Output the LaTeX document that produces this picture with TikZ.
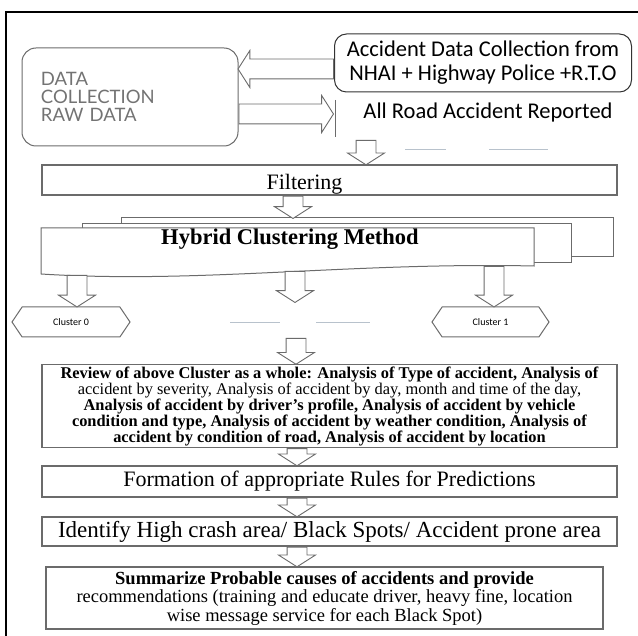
\documentclass[tikz,border=0pt]{standalone}
\usepackage{fontspec}
\setmainfont{Liberation Serif}
\newfontfamily\calfont{Carlito}
\newfontfamily\latofont{Lato}
\usetikzlibrary{positioning,calc,shapes.arrows,shapes.symbols}
\definecolor{linegray}{gray}{0.42}
\definecolor{textgray}{gray}{0.45}
\definecolor{fadeline}{rgb}{0.72,0.76,0.80}
\tikzset{
  box/.style={draw=linegray,line width=1.3pt,fill=white,inner sep=2pt,align=center},
  blockarrow/.style={single arrow,draw=linegray,fill=white,line width=0.9pt,
    inner xsep=0pt,inner ysep=9.5pt,
    single arrow head extend=8.5pt,single arrow tip angle=115},
  clusterbox/.style={signal,signal to=west and east,signal pointer angle=112,draw=linegray,
    line width=1pt,minimum width=118pt,minimum height=30pt,inner sep=0pt,
    font=\calfont\fontsize{10}{11}\selectfont},
  sheet/.style={draw=linegray,line width=1pt,fill=white}
}
% hollow block arrow from #1 to #2
\newcommand\hollowarrow[2]{\path let \p1=#1, \p2=#2,
  \n1={veclen(\x2-\x1,\y2-\y1)}, \n2={atan2(\y2-\y1,\x2-\x1)} in
  node[blockarrow,minimum height=\n1,rotate=\n2,anchor=tail] at (\p1) {};}

\begin{document}
\begin{tikzpicture}[x=1pt,y=-1pt]
\useasboundingbox (0,0) rectangle (638,636);
% outer frame
\draw[line width=1.5pt] (638,12) -- (6,12) -- (6,636);

% data collection part
\node[draw=linegray,line width=1pt,rounded corners=14pt,minimum width=216pt,minimum height=98pt,
  text width=178pt,inner xsep=19pt,align=left,text=textgray,
  font=\latofont\fontsize{18.5}{18}\selectfont] (raw) at (130,97) {DATA\\COLLECTION\\RAW DATA};
\node[draw=black!80,line width=1pt,rounded corners=12pt,minimum width=297pt,minimum height=58pt,
  align=center,font=\calfont\fontsize{22.5}{24}\selectfont] (adc) at (483,63)
  {Accident Data Collection from\\NHAI + Highway Police +R.T.O};
\node[font=\calfont\fontsize{22.5}{24}\selectfont] (road) at (488,113) {All Road Accident Reported};
\draw[linegray,line width=0.8pt] (335,100) -- (335,137);
\draw[fadeline,line width=1pt] (405,150) -- (446,150) (489,150) -- (548,150);
\hollowarrow{(adc.west |- 0,69)}{(raw.east |- 0,69)}
\hollowarrow{(raw.east |- 0,114)}{(333,114)}

% filtering
\node[box,minimum width=575pt,minimum height=30pt] (filter) at (329.5,180) {};
\node[font=\fontsize{22}{24}\selectfont] at ($(filter.center)+(-25,4)$) {Filtering};
\hollowarrow{(366,140)}{(366,0 |- filter.north)}

% hybrid clustering sheets
\draw[sheet] (121,218) rectangle (613,257);
\draw[sheet] (82,224) rectangle (571,263);
\draw[sheet] (41,228) -- (534,228) -- (534,266)
  .. controls (350,262) and (200,284) .. (41,274) -- cycle;
\node[font=\bfseries\fontsize{22.5}{24}\selectfont] (hyb) at (290,239) {Hybrid Clustering Method};
\hollowarrow{(293,0 |- filter.south)}{(293,218)}

% clusters
\node[clusterbox] (c0) at (71,322) {Cluster 0};
\node[clusterbox,minimum width=117pt] (c1) at (490.5,322) {Cluster 1};
\draw[fadeline,line width=1pt] (230,323) -- (280,323) (316,323) -- (370,323);
\hollowarrow{(77,275)}{(77,0 |- c0.north)}
\hollowarrow{(295,271)}{(295,302)}
\hollowarrow{(494,266)}{(494,0 |- c1.north)}

% review and results
\node[box,minimum width=575pt,minimum height=82pt,font=\fontsize{16.4}{16}\selectfont] (review) at (329.5,406)
  {\textbf{Review of above Cluster as a whole: Analysis of Type of accident, Analysis of}\\
   accident by severity, Analysis of accident by day, month and time of the day,\\
   \textbf{Analysis of accident by driver's profile, Analysis of accident by vehicle}\\
   \textbf{condition and type, Analysis of accident by weather condition, Analysis of}\\
   \textbf{accident by condition of road, Analysis of accident by location}};
\node[box,minimum width=575pt,minimum height=31pt,font=\fontsize{22}{24}\selectfont] (rules) at (329.5,481.5)
  {Formation of appropriate Rules for Predictions};
\node[box,minimum width=575pt,minimum height=29pt,font=\fontsize{23}{24}\selectfont] (spots) at (329.5,531.5)
  {Identify High crash area/ Black Spots/ Accident prone area};
\node[box,minimum width=557pt,minimum height=62pt,font=\fontsize{18.5}{18.5}\selectfont] (summ) at (324.5,598)
  {\textbf{Summarize Probable causes of accidents and provide}\\
   recommendations (training and educate driver, heavy fine, location\\
   wise message service for each Black Spot)};
\hollowarrow{(296,338)}{(296,0 |- review.north)}
\hollowarrow{(297,0 |- review.south)}{(297,0 |- rules.north)}
\hollowarrow{(297,0 |- rules.south)}{(297,0 |- spots.north)}
\hollowarrow{(297,0 |- spots.south)}{(297,0 |- summ.north)}
\end{tikzpicture}
\end{document}
